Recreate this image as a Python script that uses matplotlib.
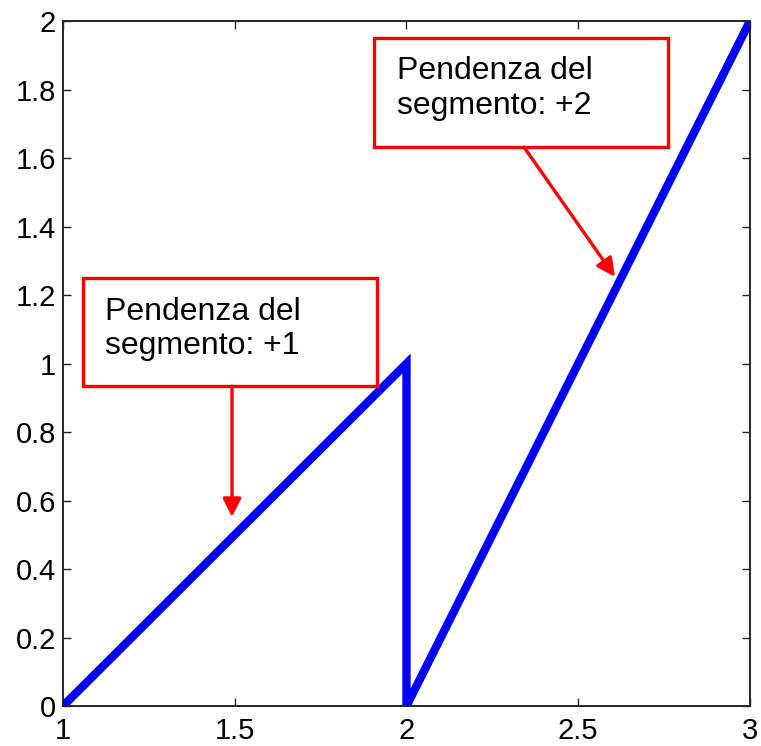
import matplotlib.pyplot as plt
from matplotlib.patches import Rectangle

# piecewise line: slope +1, drop, slope +2
x = [1, 2, 2, 3]
y = [0, 1, 0, 2]

xticks = [1, 1.5, 2, 2.5, 3]
xticklabels = ["1", "1.5", "2", "2.5", "3"]
yticks = [0, 0.2, 0.4, 0.6, 0.8, 1, 1.2, 1.4, 1.6, 1.8, 2]
yticklabels = ["0", "0.2", "0.4", "0.6", "0.8", "1", "1.2", "1.4", "1.6", "1.8", "2"]

notes = ["Pendenza del\nsegmento: +1", "Pendenza del\nsegmento: +2"]
arrow_targets = [(1.492, 0.552), (2.607, 1.253)]

plt.rcParams["font.family"] = ["Liberation Sans", "DejaVu Sans"]

fig = plt.figure(figsize=(7.61, 7.46), dpi=100)
ax = fig.add_axes([0.0828, 0.0536, 0.9027, 0.9182])

ax.plot(x, y, color="#0000ff", lw=6, solid_joinstyle="miter", zorder=3)

ax.set_xlim(1, 3)
ax.set_ylim(0, 2)
ax.set_xticks(xticks)
ax.set_xticklabels(xticklabels)
ax.set_yticks(yticks)
ax.set_yticklabels(yticklabels)
ax.tick_params(direction="in", length=6, width=1, labelsize=21, pad=5,
               top=True, right=True, colors="#262626")
ax.tick_params(axis="x", pad=8)
for lbl in ax.get_xticklabels() + ax.get_yticklabels():
    lbl.set_color("black")
for s in ax.spines.values():
    s.set_linewidth(1.4)
    s.set_color("#262626")

# annotation boxes
boxes = [(1.058, 0.934, 0.856, 0.316), (1.905, 1.632, 0.856, 0.318)]
text_pos = [(1.122, 1.195), (1.972, 1.898)]
arrow_starts = [(1.492, 0.934), (2.342, 1.632)]

for (bx, by, bw, bh), (tx, ty), note, start, tgt in zip(boxes, text_pos, notes, arrow_starts, arrow_targets):
    ax.add_patch(Rectangle((bx, by), bw, bh, facecolor="white", edgecolor="#ff0000",
                           lw=2.4, zorder=4))
    ax.text(tx, ty, note, fontsize=23, va="top", ha="left", linespacing=1.2, zorder=5)
    ax.annotate("", xy=tgt, xytext=start,
                arrowprops=dict(arrowstyle="-|>,head_length=1.1,head_width=0.55",
                                color="#ff0000", lw=2.4, shrinkA=0, shrinkB=0),
                zorder=5)

fig.savefig("out.png", dpi=100)
